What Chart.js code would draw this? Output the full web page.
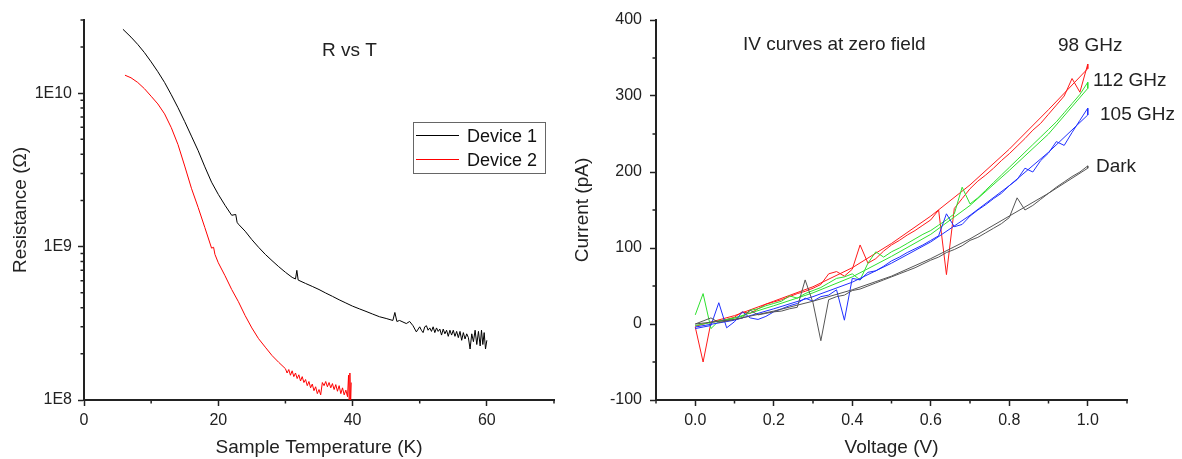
<!DOCTYPE html>
<html>
<head>
<meta charset="utf-8">
<script src="https://cdn.jsdelivr.net/npm/chart.js@4.4.1/dist/chart.umd.min.js"></script>
<style>
  html, body { margin: 0; padding: 0; background: #fff; }
  #contenedor { position: relative; width: 1182px; height: 459px; overflow: hidden; }
  #graficoRT { position: absolute; left: 0; top: 0; }
  #graficoIV { position: absolute; left: 560px; top: 0; }
</style>
</head>
<body>
<div id="contenedor">
  <canvas id="graficoRT" width="560" height="459"></canvas>
  <canvas id="graficoIV" width="622" height="459"></canvas>
</div>
<script>
//datos R vs T
const tDevice1 = [
  5.8, 7, 8, 9, 10, 11, 12, 13, 14, 15,
  16, 17, 18, 19, 20, 21, 22, 22.6, 22.8, 23,
  24, 25, 26, 27, 28, 29, 30, 31, 31.5, 31.7,
  31.9, 33, 34, 35, 36, 37, 38, 39, 40, 41,
  42, 43, 44, 45, 46, 46.3, 46.6, 47, 48, 48.5,
  49, 49.5,
  50, 50.25, 50.5, 50.75, 51, 51.25, 51.5, 51.75, 52, 52.25,
  52.5, 52.75, 53, 53.25, 53.5, 53.75, 54, 54.25, 54.5, 54.75,
  55, 55.25, 55.5, 55.75, 56, 56.25, 56.5, 56.75, 57, 57.25,
  57.5, 57.75, 58, 58.25, 58.5, 58.75, 59, 59.2, 59.4, 59.6,
  59.8, 60
];
const rDevice1 = [
  2.61e10, 2.32e10, 2.08e10, 1.84e10, 1.60e10, 1.38e10, 1.175e10, 9.77e9, 8.04e9, 6.53e9,
  5.25e9, 4.22e9, 3.31e9, 2.63e9, 2.19e9, 1.86e9, 1.60e9, 1.62e9, 1.44e9, 1.40e9,
  1.26e9, 1.11e9, 9.9e8, 8.9e8, 8.1e8, 7.4e8, 6.8e8, 6.3e8, 6.15e8, 7.0e8,
  6.05e8, 5.75e8, 5.5e8, 5.25e8, 4.98e8, 4.74e8, 4.5e8, 4.29e8, 4.09e8, 3.93e8,
  3.78e8, 3.63e8, 3.49e8, 3.4e8, 3.3e8, 3.72e8, 3.25e8, 3.3e8, 3.15e8, 3.25e8,
  3.05e8, 2.78e8,
  3.0e8, 2.85e8, 2.75e8, 3.0e8, 3.05e8, 2.85e8, 2.95e8, 2.8e8, 3.0e8, 2.75e8,
  2.95e8, 2.8e8, 2.9e8, 2.65e8, 2.9e8, 2.7e8, 2.85e8, 2.6e8, 2.85e8, 2.65e8,
  2.85e8, 2.6e8, 2.8e8, 2.55e8, 2.8e8, 2.45e8, 2.75e8, 2.5e8, 2.7e8, 2.55e8,
  2.15e8, 2.7e8, 2.4e8, 2.85e8, 2.3e8, 2.8e8, 2.25e8, 2.85e8, 2.3e8, 2.75e8,
  2.15e8, 2.45e8
];
const tDevice2 = [
  6.1, 7, 8, 9, 10, 11, 12, 13, 14, 15,
  16, 17, 18, 19, 19.3, 19.5, 20, 21, 22, 23,
  24, 25, 26, 27, 28, 29,
  30, 30.25, 30.5, 30.75, 31, 31.25, 31.5, 31.75, 32, 32.25,
  32.5, 32.75, 33, 33.25, 33.5, 33.75, 34, 34.25, 34.5, 34.75,
  35, 35.25, 35.5, 35.75, 36, 36.25, 36.5, 36.75, 37, 37.25,
  37.5, 37.75, 38, 38.25, 38.5, 38.75, 39, 39.25,
  39.4, 39.5, 39.6, 39.7, 39.8
];
const rDevice2 = [
  1.31e10, 1.26e10, 1.175e10, 1.07e10, 9.55e9, 8.51e9, 7.33e9, 5.96e9, 4.62e9, 3.35e9,
  2.40e9, 1.80e9, 1.33e9, 9.77e8, 9.9e8, 8.9e8, 7.85e8, 6.46e8, 5.25e8, 4.37e8,
  3.55e8, 2.95e8, 2.51e8, 2.21e8, 1.95e8, 1.76e8,
  1.6e8, 1.5e8, 1.58e8, 1.45e8, 1.55e8, 1.42e8, 1.5e8, 1.38e8, 1.46e8, 1.33e8,
  1.42e8, 1.3e8, 1.36e8, 1.24e8, 1.32e8, 1.2e8, 1.27e8, 1.15e8, 1.22e8, 1.1e8,
  1.17e8, 1.08e8, 1.3e8, 1.24e8, 1.32e8, 1.22e8, 1.3e8, 1.2e8, 1.28e8, 1.17e8,
  1.26e8, 1.14e8, 1.24e8, 1.1e8, 1.2e8, 1.08e8, 1.16e8, 1.05e8,
  1.45e8, 0.95e8, 1.5e8, 0.9e8, 1.3e8
];
const tMajor = [0, 20, 40, 60];
const tMinor = [10, 30, 50, 70];
const rMajor = [1e8, 1e9, 1e10];
const rMinor = [2e8, 3e8, 4e8, 5e8, 6e8, 7e8, 8e8, 9e8,
  2e9, 3e9, 4e9, 5e9, 6e9, 7e9, 8e9, 9e9, 2e10, 3e10];
const etiquetasRT = ['Device 1', 'Device 2'];
const coloresRT = ['#000000', '#ff0000'];

//datos IV (ida 0 -> 1 V, vuelta 1 -> 0 V)
const vIda = [
  0, 0.02, 0.04, 0.06, 0.08, 0.10, 0.12, 0.14, 0.16, 0.18,
  0.20, 0.22, 0.24, 0.26, 0.28, 0.30, 0.32, 0.34, 0.36, 0.38,
  0.40, 0.42, 0.44, 0.46, 0.48, 0.50, 0.52, 0.54, 0.56, 0.58,
  0.60, 0.62, 0.64, 0.66, 0.68, 0.70, 0.72, 0.74, 0.76, 0.78,
  0.80, 0.82, 0.84, 0.86, 0.88, 0.90, 0.92, 0.94, 0.96, 0.98,
  1.00
];
const vVuelta = [1.0, 0.9, 0.8, 0.7, 0.6, 0.5, 0.4, 0.3, 0.2, 0.1, 0];

const i98Ida = [
  -4, -50, 2, 4, 6, 9, 16, 14, 20, 26,
  29, 32, 36, 40, 43, 47, 52, 66, 69, 63,
  72, 104, 80, 86, 96, 104, 110, 117, 123, 130,
  137, 150, 65, 152, 165, 178, 188, 196, 205, 215,
  224, 234, 244, 255, 264, 276, 288, 300, 323, 305,
  342
];
const i98Vuelta = [336, 282, 230, 183, 142, 106, 74, 49, 30, 11, -3];

const i112Ida = [
  12, 40, -6, 4, 5, 8, 10, 18, 20, 24,
  27, 30, 37, 34, 40, 44, 48, 54, 60, 62,
  66, 58, 80, 95, 88, 95, 100, 106, 112, 118,
  123, 130, 137, 145, 180, 158, 166, 176, 186, 196,
  206, 216, 226, 236, 246, 256, 266, 278, 290, 302,
  318
];
const i112Vuelta = [310, 250, 202, 156, 118, 89, 62, 41, 24, 8, -2];

const i105Ida = [
  -6, -4, -2, 28, -5, 3, 16, 8, 6, 10,
  16, 20, 24, 27, 34, 30, 36, 38, 45, 5,
  60, 58, 68, 70, 76, 83, 88, 94, 99, 104,
  110, 116, 145, 128, 131, 142, 150, 157, 165, 172,
  182, 190, 205, 200, 215, 225, 240, 235, 252, 268,
  284
];
const i105Vuelta = [275, 226, 182, 143, 108, 80, 55, 36, 20, 5, -4];

const iDarkIda = [
  0, 4, 8, 2, 4, 6, 8, 18, 12, 14,
  16, 17, 20, 22, 58, 28, -22, 32, 36, 38,
  44, 46, 50, 54, 58, 62, 66, 70, 74, 79,
  84, 88, 94, 98, 103, 110, 114, 120, 126, 132,
  140, 166, 150, 156, 164, 172, 180, 187, 194, 200,
  208
];
const iDarkVuelta = [205, 172, 142, 112, 86, 63, 45, 30, 17, 6, 0];

const vMajor = [0, 0.2, 0.4, 0.6, 0.8, 1.0];
const vMinor = [-0.1, 0.1, 0.3, 0.5, 0.7, 0.9, 1.1];
const iMajor = [-100, 0, 100, 200, 300, 400];
const iMinor = [-50, 50, 150, 250, 350];
const etiquetasIV = ['98 GHz', '112 GHz', '105 GHz', 'Dark'];

Chart.defaults.font.family = "'Liberation Sans', Arial, sans-serif";
Chart.defaults.color = '#222';

//funciones de ayuda
const aPuntos = (xs, ys) => xs.map((x, i) => ({ x, y: ys[i] }));
const barrido = (ida, vuelta) => aPuntos(vIda, ida).concat(aPuntos(vVuelta, vuelta));

function serie(label, data, color) {
  return { label, data, borderColor: color, backgroundColor: color, borderWidth: 1,
    showLine: true, pointRadius: 0, tension: 0, borderJoinStyle: 'bevel' };
}

function eje(min, max, majors, titulo, formato, tamano, tituloPad, ticksPad, tipo) {
  const horizontal = tamano.height !== undefined;
  return {
    type: tipo || 'linear',
    min, max,
    afterBuildTicks: scale => { scale.ticks = majors.map(v => ({ value: v })); },
    afterFit: scale => {
      if (horizontal) scale.height = tamano.height; else scale.width = tamano.width;
    },
    grid: { drawOnChartArea: false, tickLength: 6, tickColor: '#222', tickWidth: 1.5 },
    border: { display: true, color: '#222', width: 2 },
    ticks: { autoSkip: false, maxRotation: 0, padding: ticksPad, color: '#222',
      font: { size: 16 }, callback: formato },
    title: { display: true, text: titulo, color: '#222', font: { size: 19 }, padding: tituloPad }
  };
}

//marcas menores dibujadas con las escalas del grafico
function marcasMenores(xVals, yVals) {
  return {
    id: 'marcasMenores',
    afterDraw(chart) {
      const { ctx, chartArea, scales } = chart;
      ctx.save();
      ctx.strokeStyle = '#222';
      ctx.lineWidth = 1.5;
      ctx.beginPath();
      xVals.forEach(v => {
        const px = scales.x.getPixelForValue(v);
        ctx.moveTo(px, chartArea.bottom);
        ctx.lineTo(px, chartArea.bottom + 3.5);
      });
      yVals.forEach(v => {
        const py = scales.y.getPixelForValue(v);
        ctx.moveTo(chartArea.left, py);
        ctx.lineTo(chartArea.left - 3.5, py);
      });
      ctx.stroke();
      ctx.restore();
    }
  };
}

function textos(lista) {
  return {
    id: 'textos',
    afterDraw(chart) {
      const ctx = chart.ctx;
      ctx.save();
      ctx.fillStyle = '#222';
      ctx.font = "19px 'Liberation Sans', Arial, sans-serif";
      ctx.textBaseline = 'middle';
      ctx.textAlign = 'left';
      lista.forEach(t => ctx.fillText(t.texto, t.x, t.y));
      ctx.restore();
    }
  };
}

const leyendaRT = {
  id: 'leyendaRT',
  afterDraw(chart) {
    const ctx = chart.ctx;
    ctx.save();
    ctx.strokeStyle = '#666';
    ctx.lineWidth = 1;
    ctx.strokeRect(413.5, 122.5, 132, 51);
    ctx.font = "18px 'Liberation Sans', Arial, sans-serif";
    ctx.textBaseline = 'middle';
    ctx.fillStyle = '#111';
    const filas = [135.5, 159.5];
    etiquetasRT.forEach((texto, i) => {
      ctx.strokeStyle = coloresRT[i];
      ctx.beginPath();
      ctx.moveTo(416, filas[i]);
      ctx.lineTo(459, filas[i]);
      ctx.stroke();
      ctx.fillText(texto, 467, filas[i] + 1.5);
    });
    ctx.restore();
  }
};

//grafico R vs T
new Chart(document.getElementById('graficoRT'), {
  type: 'scatter',
  data: {
    datasets: [
      serie(etiquetasRT[0], aPuntos(tDevice1, rDevice1), coloresRT[0]),
      serie(etiquetasRT[1], aPuntos(tDevice2, rDevice2), coloresRT[1])
    ]
  },
  options: {
    responsive: false,
    animation: false,
    events: [],
    devicePixelRatio: 1,
    layout: { padding: { left: 0, top: 20, right: 6, bottom: 0 } },
    scales: {
      x: eje(0, 70, tMajor, 'Sample Temperature (K)', v => String(v), { height: 59 }, { bottom: 0 }, 5),
      y: eje(1e8, 3e10, rMajor, 'Resistance (\u03A9)', v => '1E' + Math.round(Math.log10(v)),
        { width: 84 }, { top: 9 }, 6, 'logarithmic')
    },
    plugins: { legend: { display: false }, tooltip: { enabled: false } }
  },
  plugins: [marcasMenores(tMinor, rMinor), textos([{ texto: 'R vs T', x: 322, y: 51 }]), leyendaRT]
});

//grafico IV
new Chart(document.getElementById('graficoIV'), {
  type: 'scatter',
  data: {
    datasets: [
      serie('Dark', barrido(iDarkIda, iDarkVuelta), '#555555'),
      serie('105 GHz', barrido(i105Ida, i105Vuelta), '#1f2fff'),
      serie('112 GHz', barrido(i112Ida, i112Vuelta), '#2ee02e'),
      serie('98 GHz', barrido(i98Ida, i98Vuelta), '#ff1a1a')
    ]
  },
  options: {
    responsive: false,
    animation: false,
    events: [],
    devicePixelRatio: 1,
    layout: { padding: { left: 0, top: 20, right: 55, bottom: 0 } },
    scales: {
      x: eje(-0.1, 1.1, vMajor, 'Voltage (V)', v => v.toFixed(1), { height: 59 }, { bottom: 0 }, 5),
      y: eje(-100, 400, iMajor, 'Current (pA)', v => String(v), { width: 96 }, { top: 11.5 }, 8)
    },
    plugins: { legend: { display: false }, tooltip: { enabled: false } }
  },
  plugins: [
    marcasMenores(vMinor, iMinor),
    textos([
      { texto: 'IV curves at zero field', x: 183, y: 45 },
      { texto: etiquetasIV[0], x: 498, y: 46 },
      { texto: etiquetasIV[1], x: 533, y: 81 },
      { texto: etiquetasIV[2], x: 540, y: 115 },
      { texto: etiquetasIV[3], x: 536, y: 167 }
    ])
  ]
});
</script>
</body>
</html>
